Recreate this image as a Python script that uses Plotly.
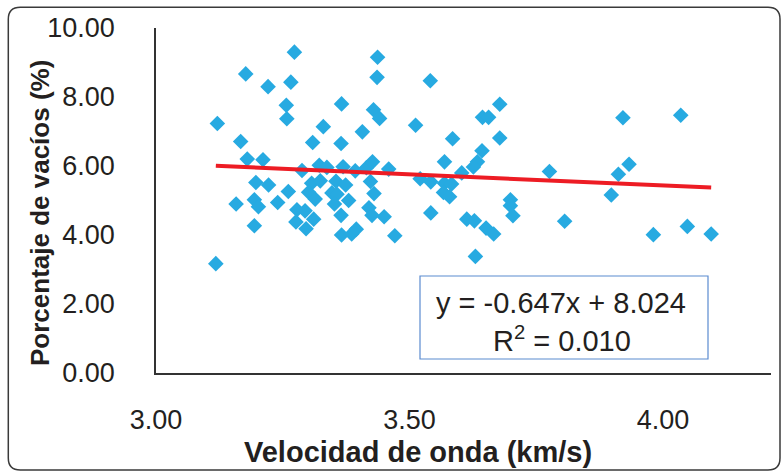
import plotly.graph_objects as go

# ---- data ----
velocidad = [3.118, 3.121, 3.177, 3.221, 3.266, 3.257, 3.258, 3.273, 3.167, 3.180,
             3.211, 3.197, 3.222, 3.158, 3.194, 3.202, 3.240, 3.194, 3.261, 3.278,
             3.294, 3.276, 3.296, 3.311, 3.288, 3.309, 3.330, 3.322, 3.337, 3.307,
             3.324, 3.301, 3.314, 3.347, 3.357, 3.355, 3.374, 3.369, 3.393, 3.415,
             3.427, 3.459, 3.423, 3.430, 3.380, 3.352, 3.365, 3.420, 3.426, 3.450,
             3.366, 3.386, 3.395, 3.471, 3.365, 3.366, 3.437, 3.436, 3.541, 3.429,
             3.441, 3.407, 3.512, 3.585, 3.569, 3.521, 3.542, 3.569, 3.583, 3.567,
             3.579, 3.542, 3.613, 3.628, 3.651, 3.666, 3.630, 3.603, 3.643, 3.634,
             3.626, 3.678, 3.644, 3.656, 3.678, 3.699, 3.699, 3.704, 3.776, 3.806,
             3.898, 3.912, 3.933, 3.921, 4.035, 3.981, 4.048, 4.095]
vacios = [3.17, 7.23, 8.67, 8.30, 8.43, 7.76, 7.37, 9.30, 6.71, 6.20,
          6.18, 5.52, 5.45, 4.90, 5.02, 4.82, 4.94, 4.27, 5.26, 4.73,
          4.70, 4.38, 4.18, 4.46, 5.87, 6.68, 7.14, 6.02, 5.96, 5.50,
          5.57, 5.24, 5.04, 5.22, 5.18, 5.56, 5.45, 5.98, 5.86, 5.95,
          6.12, 5.91, 5.55, 5.20, 5.00, 4.90, 4.57, 4.79, 4.57, 4.53,
          4.00, 4.03, 4.17, 3.98, 6.65, 7.80, 9.15, 8.57, 8.47, 7.63,
          7.38, 6.99, 7.18, 6.79, 6.12, 5.63, 5.54, 5.50, 5.48, 5.23,
          5.11, 4.64, 4.46, 4.41, 4.20, 4.03, 3.38, 5.80, 6.44, 6.12,
          5.97, 7.79, 7.41, 7.41, 6.81, 5.02, 4.85, 4.56, 5.84, 4.40,
          5.16, 5.76, 6.05, 7.40, 7.47, 4.01, 4.25, 4.03]
slope = -0.647
intercept = 8.024
r2 = 0.010
x_ticks = [3.0, 3.5, 4.0]
y_ticks = [0, 2, 4, 6, 8, 10]

# ---- layout geometry (pixels) ----
W, H = 781, 472
L, R, T, B = 156, 10, 28, 99
PW, PH = W - L - R, H - T - B


def xp(px):
    return (px - L) / PW


def yp(py):
    return (H - B - py) / PH


FONT = "Liberation Sans, Arial, sans-serif"
TXT = "#231f20"

xmin, xmax = min(velocidad), max(velocidad)
trend_x = [xmin, xmax]
trend_y = [slope * v + intercept for v in trend_x]

fig = go.Figure()
fig.add_trace(go.Scatter(
    x=velocidad, y=vacios, mode="markers",
    marker=dict(symbol="diamond", size=12, color="#27aae1", line=dict(width=0)),
    showlegend=False, hoverinfo="skip"))
fig.add_trace(go.Scatter(
    x=trend_x, y=trend_y, mode="lines",
    line=dict(color="#ed1c24", width=4),
    showlegend=False, hoverinfo="skip"))

# rounded outer border
lft, rgt, top, bot = xp(8.3), xp(780), yp(7.3), yp(470)
rx, ry = 12 / PW, 12 / PH
path = (f"M {lft+rx},{top} L {rgt-rx},{top} Q {rgt},{top} {rgt},{top-ry} "
        f"L {rgt},{bot+ry} Q {rgt},{bot} {rgt-rx},{bot} "
        f"L {lft+rx},{bot} Q {lft},{bot} {lft},{bot+ry} "
        f"L {lft},{top-ry} Q {lft},{top} {lft+rx},{top} Z")

shapes = [
    dict(type="path", xref="paper", yref="paper", path=path,
         line=dict(color="#3a3a3a", width=1.5), fillcolor="rgba(0,0,0,0)"),
    dict(type="rect", xref="paper", yref="paper",
         x0=xp(420), x1=xp(708), y0=yp(359), y1=yp(276),
         line=dict(color="#5b8bd0", width=1.2), fillcolor="white", layer="above"),
]

eq_text = f"y = {slope:.3f}x + {intercept:.3f}"
r2_text = f"R<sup>2</sup> = {r2:.3f}"

annotations = [
    dict(text=eq_text, x=xp(561), y=yp(303), xref="paper", yref="paper",
         showarrow=False, xanchor="center", yanchor="middle",
         font=dict(family=FONT, size=29, color=TXT)),
    dict(text=r2_text, x=xp(562), y=yp(339), xref="paper", yref="paper",
         showarrow=False, xanchor="center", yanchor="middle",
         font=dict(family=FONT, size=29, color=TXT)),
    dict(text="<b>Velocidad de onda (km/s)</b>", x=xp(418), y=yp(452),
         xref="paper", yref="paper", showarrow=False,
         xanchor="center", yanchor="middle",
         font=dict(family=FONT, size=29, color=TXT)),
    dict(text="<b>Porcentaje de vacíos (%)</b>", x=xp(40), y=yp(213),
         xref="paper", yref="paper", showarrow=False, textangle=-90,
         xanchor="center", yanchor="middle",
         font=dict(family=FONT, size=26, color=TXT)),
]

fig.update_layout(
    width=W, height=H,
    margin=dict(l=L, r=R, t=T, b=B, pad=0),
    paper_bgcolor="white", plot_bgcolor="white",
    shapes=shapes, annotations=annotations,
    xaxis=dict(range=[3.0, 4.213], tickvals=x_ticks, tickformat=".2f",
               showgrid=False, zeroline=False, showline=True,
               linecolor="#333333", linewidth=1.5, ticks="",
               ticklabelstandoff=22,
               tickfont=dict(family=FONT, size=27, color=TXT)),
    yaxis=dict(range=[0, 10], tickvals=y_ticks, tickformat=".2f",
               showgrid=False, zeroline=False, showline=True,
               linecolor="#333333", linewidth=1.5, ticks="",
               ticklabelstandoff=34,
               tickfont=dict(family=FONT, size=27, color=TXT)),
)

fig.write_html("out.html")
